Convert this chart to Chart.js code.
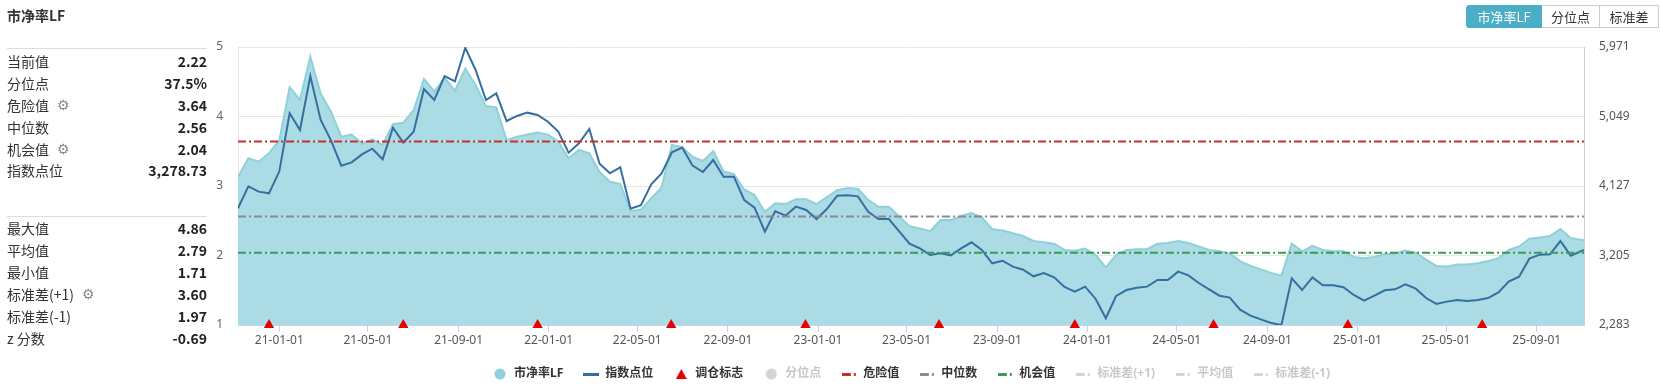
<!DOCTYPE html>
<html>
<head>
<meta charset="utf-8">
<script src="https://cdn.jsdelivr.net/npm/chart.js@4.4.0/dist/chart.umd.min.js"></script>
<style>
  body { margin: 0; background: #fff; font-family: "Noto Sans CJK SC", "Noto Sans", sans-serif; color: #333; }
  #wrap { position: relative; width: 1660px; height: 390px; overflow: hidden; }
  #chart { position: absolute; left: 0; top: 0; }
  .title { position: absolute; left: 7px; top: 6px; font-size: 14px; line-height: 19px; font-weight: bold; }
  .sep { position: absolute; left: 7px; width: 200px; border-top: 1px solid #dcdcdc; }
  .panel { position: absolute; left: 7px; width: 200px; }
  .row { height: 21.9px; display: flex; justify-content: space-between; align-items: center; font-size: 14px; }
  .row > span { display: flex; align-items: center; }
  .row b { font-weight: bold; color: #222; }
  .gear { color: #8a8a8a; font-size: 14px; margin-left: 8px; font-family: "DejaVu Sans", sans-serif; }
  .btns { position: absolute; left: 1466px; top: 5px; display: flex; height: 23px; font-size: 13px; }
  .btns span { box-sizing: border-box; height: 23px; line-height: 21px; text-align: center; border: 1px solid #ccc; background: #fff; color: #333; }
  .btns span + span { border-left: none; }
  .btns .on { background: #4aaec6; border-color: #4aaec6; color: #fff; border-radius: 3px 0 0 3px; }
</style>
</head>
<body>
<div id="wrap">
  <canvas id="chart" width="1660" height="390"></canvas>
  <div class="title">市净率LF</div>
  <div class="sep" style="top:48px"></div>
  <div class="panel" style="top:50px">
    <div class="row"><span>当前值</span><b>2.22</b></div>
    <div class="row"><span>分位点</span><b>37.5%</b></div>
    <div class="row"><span>危险值<span class="gear">⚙</span></span><b>3.64</b></div>
    <div class="row"><span>中位数</span><b>2.56</b></div>
    <div class="row"><span>机会值<span class="gear">⚙</span></span><b>2.04</b></div>
    <div class="row"><span>指数点位</span><b>3,278.73</b></div>
  </div>
  <div class="sep" style="top:216px"></div>
  <div class="panel" style="top:217.4px">
    <div class="row"><span>最大值</span><b>4.86</b></div>
    <div class="row"><span>平均值</span><b>2.79</b></div>
    <div class="row"><span>最小值</span><b>1.71</b></div>
    <div class="row"><span>标准差(+1)<span class="gear">⚙</span></span><b>3.60</b></div>
    <div class="row"><span>标准差(-1)</span><b>1.97</b></div>
    <div class="row"><span>z 分数</span><b>-0.69</b></div>
  </div>
  <div class="btns">
    <span class="on" style="width:76px">市净率LF</span><span style="width:58px">分位点</span><span style="width:59px">标准差</span>
  </div>
</div>
<script>
// biweekly sample dates
const dates = [
  '2020-11-06','2020-11-20','2020-12-04','2020-12-18',
  '2021-01-01','2021-01-15','2021-01-29','2021-02-12','2021-02-26','2021-03-12','2021-03-26','2021-04-09','2021-04-23',
  '2021-05-07','2021-05-21','2021-06-04','2021-06-18','2021-07-02','2021-07-16','2021-07-30','2021-08-13','2021-08-27',
  '2021-09-10','2021-09-24','2021-10-08','2021-10-22','2021-11-05','2021-11-19','2021-12-03','2021-12-17','2021-12-31',
  '2022-01-14','2022-01-28','2022-02-11','2022-02-25','2022-03-11','2022-03-25','2022-04-08','2022-04-22','2022-05-06',
  '2022-05-20','2022-06-03','2022-06-17','2022-07-01','2022-07-15','2022-07-29','2022-08-12','2022-08-26','2022-09-09',
  '2022-09-23','2022-10-07','2022-10-21','2022-11-04','2022-11-18','2022-12-02','2022-12-16','2022-12-30',
  '2023-01-13','2023-01-27','2023-02-10','2023-02-24','2023-03-10','2023-03-24','2023-04-07','2023-04-21','2023-05-05',
  '2023-05-19','2023-06-02','2023-06-16','2023-06-30','2023-07-14','2023-07-28','2023-08-11','2023-08-25','2023-09-08',
  '2023-09-22','2023-10-06','2023-10-20','2023-11-03','2023-11-17','2023-12-01','2023-12-15','2023-12-29',
  '2024-01-12','2024-01-26','2024-02-09','2024-02-23','2024-03-08','2024-03-22','2024-04-05','2024-04-19','2024-05-03',
  '2024-05-17','2024-05-31','2024-06-14','2024-06-28','2024-07-12','2024-07-26','2024-08-09','2024-08-23','2024-09-06',
  '2024-09-20','2024-10-04','2024-10-18','2024-11-01','2024-11-15','2024-11-29','2024-12-13','2024-12-27',
  '2025-01-10','2025-01-24','2025-02-07','2025-02-21','2025-03-07','2025-03-21','2025-04-04','2025-04-18','2025-05-02',
  '2025-05-16','2025-05-30','2025-06-13','2025-06-27','2025-07-11','2025-07-25','2025-08-08','2025-08-22','2025-09-05',
  '2025-09-19','2025-10-03','2025-10-17','2025-11-04'
];

const pbLF = [
  3.13, 3.40, 3.35, 3.47, 3.66, 4.42, 4.24, 4.86, 4.33, 4.07,
  3.71, 3.74, 3.61, 3.67, 3.59, 3.89, 3.91, 4.09, 4.54, 4.36,
  4.56, 4.37, 4.69, 4.45, 4.15, 4.13, 3.66, 3.71, 3.74, 3.77,
  3.74, 3.64, 3.40, 3.52, 3.47, 3.20, 3.06, 3.03, 2.64, 2.66,
  2.82, 2.98, 3.59, 3.56, 3.42, 3.36, 3.50, 3.21, 3.17, 2.95,
  2.87, 2.63, 2.75, 2.74, 2.81, 2.81, 2.74, 2.84, 2.94, 2.97,
  2.96, 2.80, 2.70, 2.70, 2.56, 2.42, 2.39, 2.35, 2.51, 2.51,
  2.57, 2.61, 2.55, 2.38, 2.36, 2.32, 2.28, 2.21, 2.19, 2.17,
  2.08, 2.07, 2.10, 2.01, 1.83, 2.01, 2.08, 2.09, 2.09, 2.17,
  2.18, 2.21, 2.18, 2.13, 2.08, 2.06, 2.03, 1.92, 1.85, 1.80,
  1.75, 1.71, 2.17, 2.06, 2.14, 2.08, 2.06, 2.06, 1.98, 1.96,
  1.98, 2.02, 2.03, 2.07, 2.04, 1.94, 1.85, 1.84, 1.87, 1.87,
  1.89, 1.92, 1.96, 2.08, 2.13, 2.24, 2.26, 2.28, 2.38, 2.25,
  2.22
];

const indexPts = [
  3831, 4123, 4052, 4030, 4322, 5091, 4870, 5586, 5003, 4733,
  4397, 4441, 4547, 4622, 4481, 4901, 4702, 4848, 5414, 5268,
  5586, 5515, 5960, 5666, 5268, 5356, 4989, 5056, 5100, 5069,
  4980, 4848, 4569, 4693, 4883, 4423, 4295, 4375, 3826, 3871,
  4149, 4295, 4574, 4636, 4397, 4313, 4472, 4251, 4251, 3941,
  3840, 3521, 3791, 3733, 3853, 3809, 3689, 3822, 3999, 4003,
  3990, 3786, 3689, 3689, 3526, 3362, 3300, 3212, 3234, 3207,
  3300, 3380, 3278, 3101, 3136, 3057, 3017, 2929, 2973, 2915,
  2787, 2725, 2792, 2632, 2372, 2668, 2747, 2778, 2792, 2880,
  2880, 2991, 2942, 2840, 2756, 2672, 2646, 2486, 2407, 2358,
  2310, 2283, 2902, 2747, 2915, 2809, 2809, 2783, 2681, 2606,
  2672, 2743, 2756, 2823, 2765, 2641, 2562, 2593, 2615, 2601,
  2615, 2641, 2716, 2858, 2924, 3163, 3216, 3221, 3397, 3203,
  3279
];

// 调仓标志
const rebalanceDates = ['2020-12-18','2021-06-18','2021-12-17','2022-06-16','2022-12-15',
  '2023-06-14','2023-12-15','2024-06-20','2024-12-19','2025-06-19'];

const dangerValue = 3.64;
const medianValue = 2.56;
const chanceValue = 2.04;
const stdUpper = 3.60;
const meanValue = 2.79;
const stdLower = 1.97;

const xTickDates = ['2021-01-01','2021-05-01','2021-09-01','2022-01-01','2022-05-01','2022-09-01',
  '2023-01-01','2023-05-01','2023-09-01','2024-01-01','2024-05-01','2024-09-01',
  '2025-01-01','2025-05-01','2025-09-01'];
const indexTicks = [2283, 3205, 4127, 5049, 5971];

function dayOf(s) {
  const p = s.split('-').map(Number);
  return Date.UTC(p[0], p[1] - 1, p[2]) / 864e5;
}
function fmtDay(v) {
  const d = new Date(v * 864e5);
  const two = n => String(n).padStart(2, '0');
  return two(d.getUTCFullYear() % 100) + '-' + two(d.getUTCMonth() + 1) + '-' + two(d.getUTCDate());
}

const xMin = dayOf(dates[0]);
const xMax = dayOf(dates[dates.length - 1]);
const flat = v => [{ x: xMin, y: v }, { x: xMax, y: v }];

// legend icons
function icon(w, h, paint) {
  const c = document.createElement('canvas');
  c.width = w; c.height = h;
  paint(c.getContext('2d'));
  return c;
}
const dot = col => icon(12, 12, g => { g.fillStyle = col; g.beginPath(); g.arc(6, 6, 5.5, 0, Math.PI * 2); g.fill(); });
const bar = col => icon(16, 3, g => { g.fillStyle = col; g.fillRect(0, 0, 16, 3); });
const tri = col => icon(11, 10, g => { g.fillStyle = col; g.beginPath(); g.moveTo(5.5, 0); g.lineTo(11, 10); g.lineTo(0, 10); g.fill(); });
const dashDot = col => icon(15, 3, g => { g.fillStyle = col; g.fillRect(0, 0, 9, 3); g.fillRect(12, 0, 2, 3); });

const offGray = '#d4d4d4';
const dash = [8, 3, 2, 3];

Chart.defaults.font.family = '"Noto Sans", "Noto Sans CJK SC", sans-serif';

const ctx = document.getElementById('chart').getContext('2d');
const chart = new Chart(ctx, {
  type: 'line',
  data: {
    datasets: [
      {
        label: '市净率LF',
        data: dates.map((d, i) => ({ x: dayOf(d), y: pbLF[i] })),
        yAxisID: 'y',
        borderColor: '#90d0d9',
        backgroundColor: '#abdbe5',
        borderWidth: 2,
        fill: 'start',
        pointRadius: 0,
        order: 4,
        icon: dot('#8fd0d9')
      },
      {
        label: '指数点位',
        data: dates.map((d, i) => ({ x: dayOf(d), y: indexPts[i] })),
        yAxisID: 'y2',
        borderColor: '#356fa0',
        borderWidth: 2,
        pointRadius: 0,
        fill: false,
        order: 2,
        icon: bar('#356fa0')
      },
      {
        label: '调仓标志',
        data: rebalanceDates.map(d => ({ x: dayOf(d), y: 1 })),
        yAxisID: 'y',
        showLine: false,
        pointStyle: 'triangle',
        pointRadius: 6,
        backgroundColor: '#e60000',
        borderColor: '#e60000',
        borderWidth: 0,
        clip: false,
        order: 0,
        icon: tri('#e60000')
      },
      {
        label: '分位点',
        data: [],
        yAxisID: 'y',
        hidden: true,
        order: 5,
        off: true,
        icon: dot(offGray)
      },
      {
        label: '危险值',
        data: flat(dangerValue),
        yAxisID: 'y',
        borderColor: '#c8302c',
        borderWidth: 2,
        borderDash: dash,
        pointRadius: 0,
        order: 1,
        icon: dashDot('#c8302c')
      },
      {
        label: '中位数',
        data: flat(medianValue),
        yAxisID: 'y',
        borderColor: '#878c93',
        borderWidth: 2,
        borderDash: dash,
        pointRadius: 0,
        order: 1,
        icon: dashDot('#878c93')
      },
      {
        label: '机会值',
        data: flat(chanceValue),
        yAxisID: 'y',
        borderColor: '#3a9b52',
        borderWidth: 2,
        borderDash: dash,
        pointRadius: 0,
        order: 1,
        icon: dashDot('#3a9b52')
      },
      { label: '标准差(+1)', data: flat(stdUpper), yAxisID: 'y', hidden: true, off: true, order: 1, icon: dashDot(offGray) },
      { label: '平均值', data: flat(meanValue), yAxisID: 'y', hidden: true, off: true, order: 1, icon: dashDot(offGray) },
      { label: '标准差(-1)', data: flat(stdLower), yAxisID: 'y', hidden: true, off: true, order: 1, icon: dashDot(offGray) }
    ]
  },
  options: {
    responsive: false,
    animation: false,
    events: [],
    layout: { padding: { left: 205, right: 0, top: 47, bottom: 0 } },
    scales: {
      x: {
        type: 'linear',
        min: xMin,
        max: xMax,
        afterBuildTicks: axis => { axis.ticks = xTickDates.map(d => ({ value: dayOf(d) })); },
        afterFit: axis => { axis.height = 23; },
        grid: { drawOnChartArea: false, drawTicks: true, tickLength: 7, color: '#c6d4e8', tickColor: '#c6d4e8' },
        border: { color: '#c6d4e8' },
        ticks: { autoSkip: false, maxRotation: 0, padding: 1, color: '#555', font: { size: 12 }, callback: v => fmtDay(v) }
      },
      y: {
        position: 'left',
        min: 1,
        max: 5,
        afterFit: axis => { axis.width = 33; },
        grid: { color: '#e6e6e6', drawTicks: false },
        border: { color: '#e3e3e3' },
        ticks: { stepSize: 1, padding: 15, color: '#666', font: { size: 12 } }
      },
      y2: {
        position: 'right',
        min: 2283,
        max: 5971,
        afterBuildTicks: axis => { axis.ticks = indexTicks.map(v => ({ value: v })); },
        afterFit: axis => { axis.width = 76; },
        grid: { drawOnChartArea: false, drawTicks: false },
        border: { color: '#c6d4e8' },
        ticks: { padding: 15, color: '#555', font: { size: 12 }, callback: v => v.toLocaleString('en-US') }
      }
    },
    plugins: {
      tooltip: { enabled: false },
      legend: {
        position: 'bottom',
        fullSize: false,
        onClick: null,
        labels: {
          usePointStyle: true,
          pointStyleWidth: 16,
          boxHeight: 12,
          padding: 20,
          font: { size: 12, weight: 'bold' },
          generateLabels: ch => ch.data.datasets.map((ds, i) => ({
            text: ds.label,
            datasetIndex: i,
            hidden: false,
            pointStyle: ds.icon,
            fontColor: ds.off ? '#c8c8c8' : '#333',
            lineWidth: 0,
            strokeStyle: 'transparent',
            fillStyle: 'transparent'
          }))
        }
      }
    }
  }
});
</script>
</body>
</html>
